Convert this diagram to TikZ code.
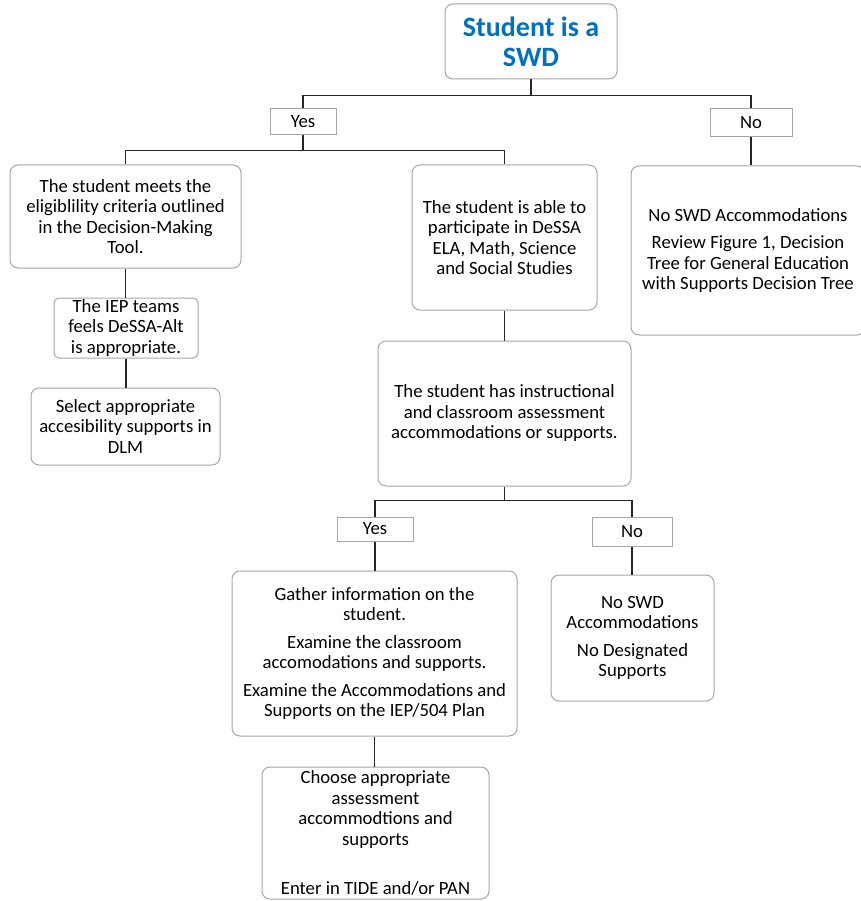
\documentclass[tikz,border=0pt]{standalone}
\usepackage{fontspec}
\setmainfont{Carlito}
\usepackage{tikz}
\usetikzlibrary{positioning}
\definecolor{titleblue}{HTML}{0070C0}
\definecolor{boxgray}{HTML}{A6A6A6}

\begin{document}
\begin{tikzpicture}[x=1pt,y=-1pt,
  box/.style={draw=boxgray,line width=1pt,rounded corners=8pt,fill=white,align=center,
    inner sep=0pt,font=\fontsize{18.7}{20.5}\selectfont},
  tag/.style={draw=boxgray,line width=1pt,fill=white,inner sep=0pt,
    font=\fontsize{18.7}{20.5}\selectfont},
  link/.style={line width=1.8pt,draw=black!85}]
  \useasboundingbox (0,0) rectangle (860,901);
  % top of the tree
  \node[box,minimum width=172,minimum height=75,text=titleblue,
    font=\fontsize{28}{30}\selectfont\bfseries] (root) at (531,41.5) {Student is a\\SWD};
  \node[tag,minimum width=66,minimum height=26] (yes) at (303,122) {Yes};
  \node[tag,minimum width=82,minimum height=28] (no) at (751,123) {No};
  \node[box,minimum width=231,minimum height=103] (elig) at (125.5,216.5)
    {The student meets the\\eligiblility criteria outlined\\in the Decision-Making\\Tool.};
  \node[box,minimum width=185,minimum height=145] (able) at (504.5,237.5)
    {The student is able to\\participate in DeSSA\\ELA, Math, Science\\and Social Studies};
  \node[box,minimum width=234,minimum height=169] (nosup) at (748,250.5)
    {No SWD Accommodations\\[7pt]Review Figure 1, Decision\\Tree for General Education\\with Supports Decision Tree};
  % left branch
  \node[box,minimum width=144,minimum height=60,rounded corners=5pt] (iep) at (126,328)
    {The IEP teams\\feels DeSSA-Alt\\is appropriate.};
  \node[box,minimum width=189,minimum height=77] (dlm) at (125.5,426.5)
    {Select appropriate\\accesibility supports in\\DLM};
  % middle branch
  \node[box,minimum width=253,minimum height=145] (has) at (504.5,413.5)
    {The student has instructional\\and classroom assessment\\accommodations or supports.};
  \node[tag,minimum width=76,minimum height=24] (yes2) at (375,529) {Yes};
  \node[tag,minimum width=80,minimum height=29] (no2) at (632,531.5) {No};
  \node[box,minimum width=285,minimum height=165] (gather) at (374.5,653.5)
    {Gather information on the\\student.\\[7pt]Examine the classroom\\accomodations and supports.\\[7pt]Examine the Accommodations and\\Supports on the IEP/504 Plan};
  \node[box,minimum width=163,minimum height=126] (noswd) at (632.5,638)
    {No SWD\\Accommodations\\[7pt]No Designated\\Supports};
  \node[box,minimum width=227,minimum height=132] (choose) at (375.5,833)
    {Choose appropriate\\assessment\\accommodtions and\\supports\\[29pt]Enter in TIDE and/or PAN};
  % connectors
  \draw[link] (root.south) -- ++(0,16) coordinate (j1);
  \draw[link] (yes.north) |- (j1) -| (no.north);
  \draw[link] (yes.south) -- ++(0,15) coordinate (j2);
  \draw[link] (elig.north) |- (j2) -| (able.north);
  \draw[link] (no.south) -- (no.south |- nosup.north);
  \draw[link] (elig.south) -- (elig.south |- iep.north);
  \draw[link] (iep.south) -- (iep.south |- dlm.north);
  \draw[link] (able.south) -- (able.south |- has.north);
  \draw[link] (has.south) -- ++(0,14) coordinate (j3);
  \draw[link] (yes2.north) |- (j3) -| (no2.north);
  \draw[link] (yes2.south) -- (yes2.south |- gather.north);
  \draw[link] (no2.south) -- (no2.south |- noswd.north);
  \draw[link] (gather.south) -- (gather.south |- choose.north);
\end{tikzpicture}
\end{document}
